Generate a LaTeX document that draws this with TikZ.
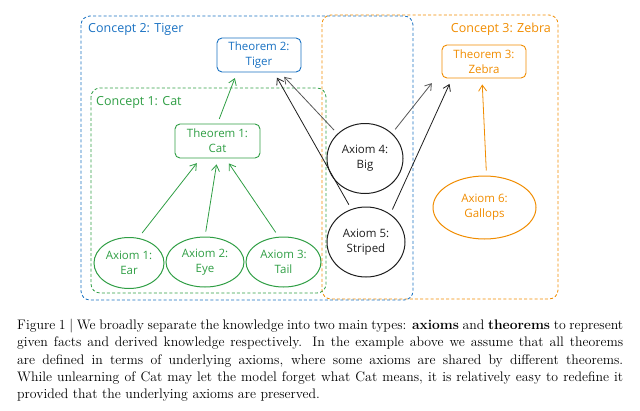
\documentclass[tikz,border=0pt]{standalone}
\usepackage{fontspec}
\newfontfamily\sketchfont{Open Sans}
\usetikzlibrary{shapes.geometric,arrows.meta}

\definecolor{tigerblue}{HTML}{1971C2}
\definecolor{catgreen}{HTML}{2F9E44}
\definecolor{zebraorange}{HTML}{F08C00}
\definecolor{inkblack}{HTML}{1E1E1E}

\tikzset{
  concept/.style={rounded corners=9pt, line width=0.8pt, dash pattern=on 3pt off 2.2pt},
  ctitle/.style={anchor=west, inner sep=0pt, font=\sketchfont\fontsize{12.5}{14}\selectfont},
  theorem/.style={draw, rounded corners=5pt, line width=0.9pt, minimum width=84pt, minimum height=34pt,
    inner sep=1pt, align=center, font=\sketchfont\fontsize{11.5}{15}\selectfont},
  axiom/.style={draw, ellipse, line width=1pt, inner sep=0pt, align=center,
    font=\sketchfont\fontsize{11.5}{15}\selectfont},
  arr/.style={-{Straight Barb[length=6pt,width=8pt]}, line width=0.8pt, shorten <=5pt, shorten >=6pt}
}

\begin{document}
\begin{tikzpicture}[x=1pt, y=-1pt]
  \useasboundingbox (0,0) rectangle (640,410);

  % concept regions
  \draw[concept, zebraorange] (322,15) rectangle (558,299);
  \draw[concept, tigerblue] (81,16) rectangle (413,300);
  \draw[concept, catgreen] (91,88) rectangle (326,293);
  \node[ctitle, tigerblue] (tigertitle) at (88,29) {Concept 2: Tiger};
  \node[ctitle, catgreen] (cattitle) at (96,102) {Concept 1: Cat};
  \node[ctitle, zebraorange, anchor=east] (zebratitle) at (551,29) {Concept 3: Zebra};

  % theorems
  \node[theorem, tigerblue] (th2) at (259,55) {Theorem 2:\\Tiger};
  \node[theorem, catgreen, minimum width=85pt] (th1) at (217.5,141) {Theorem 1:\\Cat};
  \node[theorem, zebraorange, minimum height=33pt] (th3) at (484,61.5) {Theorem 3:\\Zebra};

  % axioms
  \node[axiom, catgreen, minimum width=70pt, minimum height=51pt] (ax1) at (129,263) {Axiom 1:\\Ear};
  \node[axiom, catgreen, minimum width=78pt, minimum height=50pt] (ax2) at (205,262) {Axiom 2:\\Eye};
  \node[axiom, catgreen, minimum width=75pt, minimum height=50pt] (ax3) at (283.5,262) {Axiom 3:\\Tail};
  \node[axiom, inkblack, minimum width=76pt, minimum height=70pt] (ax4) at (365,158.5) {Axiom 4:\\Big};
  \node[axiom, inkblack, minimum width=78pt, minimum height=70pt] (ax5) at (366,242) {Axiom 5:\\Striped};
  \node[axiom, zebraorange, minimum width=103pt, minimum height=63pt] (ax6) at (484.5,207.5) {Axiom 6:\\Gallops};

  % derivations
  \draw[arr, catgreen] (th1.north) -- ([xshift=-22pt]th2.south);
  \draw[arr, catgreen] ([xshift=10pt]ax1.north) -- ([xshift=-17pt]th1.south);
  \draw[arr, catgreen] (ax2.north) -- (th1.south);
  \draw[arr, catgreen] ([xshift=-5pt]ax3.north) -- ([xshift=8pt]th1.south);
  \draw[arr, inkblack!75] (ax4.138) -- ([xshift=21pt]th2.south);
  \draw[arr, inkblack] (ax5.114) -- ([xshift=15pt]th2.south);
  \draw[arr, inkblack!75] (ax4.43) -- ([xshift=-6pt]th3.south west);
  \draw[arr, inkblack] (ax5.49) -- ([xshift=-32pt]th3.south);
  \draw[arr, zebraorange] ([xshift=2pt]ax6.north) -- ([xshift=-2pt]th3.south);

  % caption
  \node[anchor=north west, inner sep=0pt, text width=606pt, align=justify,
    font=\fontsize{13.8}{17.3}\selectfont] (caption) at (17,319)
    {Figure 1 | We broadly separate the knowledge into two main types: \textbf{axioms} and \textbf{theorems} to represent\linebreak
     given facts and derived knowledge respectively. In the example above we assume that all theorems\linebreak
     are defined in terms of underlying axioms, where some axioms are shared by different theorems.\linebreak
     While unlearning of Cat may let the model forget what Cat means, it is relatively easy to redefine it\linebreak
     provided that the underlying axioms are preserved.};
\end{tikzpicture}
\end{document}
